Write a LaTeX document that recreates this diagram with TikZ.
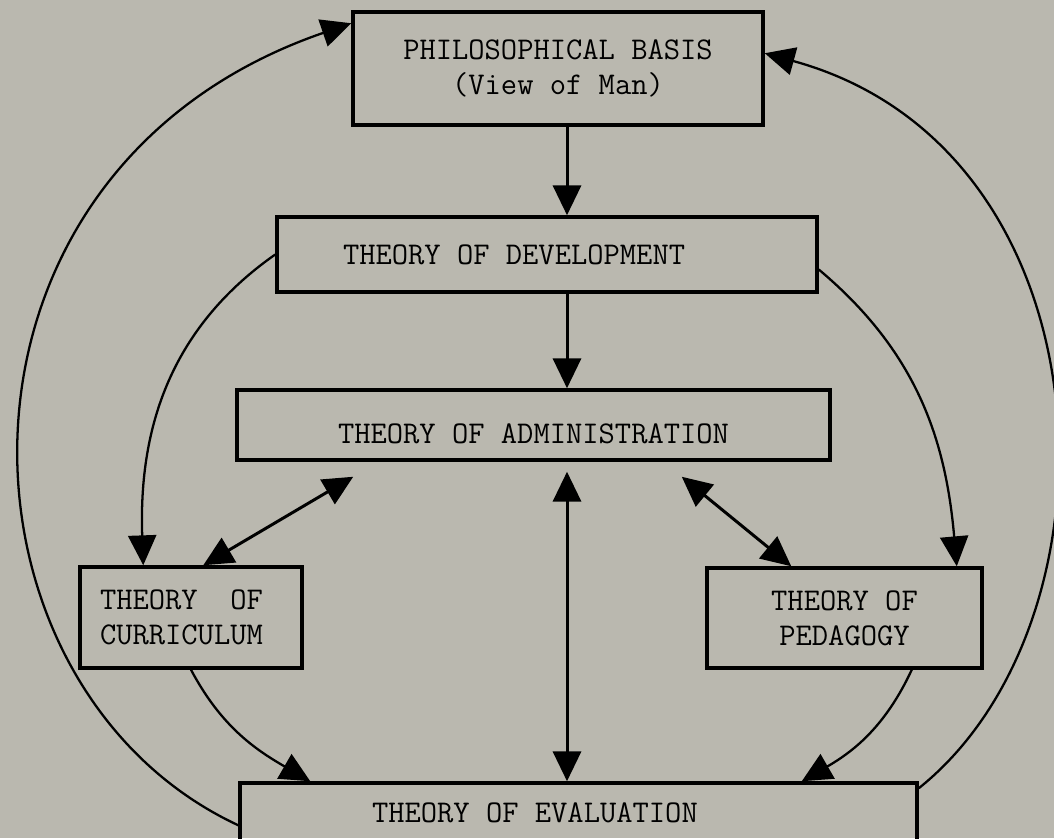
\documentclass[tikz,border=0pt]{standalone}
\usetikzlibrary{arrows.meta,calc}
\definecolor{paper}{RGB}{186,184,175}
\begin{document}
\begin{tikzpicture}[
	box/.style={draw,line width=2pt,rectangle,inner sep=0pt,align=center,font=\fontsize{18}{20}\selectfont\ttfamily},
	tip/.style={-{Triangle[length=17pt,width=16pt]}},
	both/.style={{Triangle[length=17pt,width=16pt]}-{Triangle[length=17pt,width=16pt]}},
	wire/.style={line width=1.7pt},
	curve/.style={line width=1.3pt}]
		\fill[paper] (0,0) rectangle (21.08,16.76);
		\useasboundingbox (0,0) rectangle (21.08,16.76);
		\node[box,minimum width=8.2cm,minimum height=2.26cm](phil) at (11.16,15.39) {PHILOSOPHICAL BASIS\\(View of Man)};
		\node[box,text width=8.16cm,align=flush left,inner xsep=1.32cm,minimum height=1.5cm](dev) at (10.94,11.67) {THEORY OF DEVELOPMENT};
		\node[box,minimum width=11.86cm,minimum height=1.4cm,text height=21pt,text depth=0pt](admin) at (10.67,8.26) {THEORY OF ADMINISTRATION};
		\node[box,text width=3.64cm,align=flush left,inner xsep=0.4cm,minimum height=2.02cm](curr) at (3.82,4.41) {THEORY\ \ OF\\CURRICULUM};
		\node[box,minimum width=5.5cm,minimum height=2cm](ped) at (16.89,4.40) {THEORY OF\\PEDAGOGY};
		\node[box,text width=8.26cm,align=flush left,inner xsep=2.64cm,minimum height=1.2cm](eval) at (11.57,0.5) {THEORY OF EVALUATION};
		\coordinate (axis) at (11.34,0);
		\draw[tip,wire] (phil.south -| axis) -- (dev.north -| axis);
		\draw[tip,wire] (dev.south -| axis) -- (admin.north -| axis);
		\draw[both,wire] ($(admin.south -| axis)+(0,-0.2)$) -- (eval.north -| axis);
		\draw[both,wire] ($(admin.south west)+(2.36,-0.3)$) -- ($(curr.north west)+(2.5,0)$);
		\draw[both,wire] ($(admin.south east)+(-3.0,-0.3)$) -- ($(ped.north west)+(1.72,0)$);
		\draw[tip,curve] (dev.west) to[out=215,in=92] ($(curr.north west)+(1.3,0)$);
		\draw[tip,curve] ($(dev.east)+(0,-0.3)$) to[out=-40,in=95] ($(ped.north east)+(-0.54,0)$);
		\draw[tip,curve] (curr.south) to[out=-62,in=150] ($(eval.north west)+(1.44,0)$);
		\draw[tip,curve] ($(ped.south east)+(-1.44,0)$) to[out=-115,in=30] ($(eval.north east)+(-2.34,0)$);
		\draw[tip,curve] ($(eval.north west)+(0,-0.88)$) .. controls +(155:6.6) and +(199:9.1) .. ($(phil.north west)+(0,-0.26)$);
		\draw[tip,curve] ($(eval.north east)+(0,-0.14)$) .. controls +(38.7:5.43) and +(-15.3:7.21) .. ($(phil.north east)+(0,-0.86)$);
\end{tikzpicture}
\end{document}
